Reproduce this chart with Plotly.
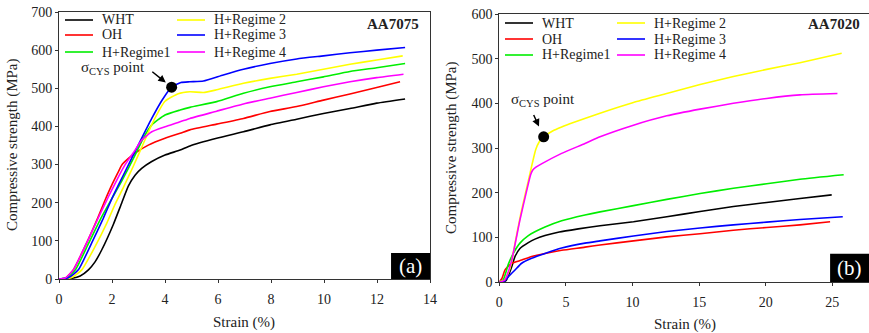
import plotly.graph_objects as go

W, H = 869, 333
FONT = "Times New Roman, Liberation Serif, DejaVu Serif, serif"
TXT = "#222222"

# ---------------- AA7075 (a) ----------------
names = ["WHT", "OH", "H+Regime1", "H+Regime 2", "H+Regime 3", "H+Regime 4"]
colors = ["#000000", "#ff0000", "#00ee00", "#ffff00", "#0000ff", "#ff00ff"]

a_wht_x = [0, 0.5, 0.8, 1.11, 1.36, 1.61, 2.05, 2.37, 2.62, 2.87, 3.12, 3.5, 4.0, 4.57, 4.94, 5.95, 6.96, 7.96, 8.97, 9.98, 10.98, 11.99, 13.06]
a_wht_y = [0, 2, 8, 24, 45, 76, 143, 200, 244, 272, 290, 308, 325, 338, 349, 369, 386, 404, 419, 434, 447, 461, 472]

a_oh_x = [0, 0.25, 0.54, 1.04, 1.48, 1.74, 1.99, 2.24, 2.37, 2.62, 2.87, 3.37, 4.0, 4.57, 4.94, 5.95, 6.96, 7.96, 8.97, 9.98, 10.98, 11.99, 12.87]
a_oh_y = [0, 3, 24, 94, 163, 207, 246, 281, 299, 316, 330, 351, 369, 382, 391, 406, 421, 439, 452, 469, 485, 502, 517]

a_r1_x = [0, 0.3, 0.62, 1.12, 1.58, 1.99, 2.37, 2.87, 3.18, 3.5, 4.0, 4.57, 4.94, 5.95, 6.96, 7.96, 8.97, 9.98, 10.98, 11.99, 13.06]
a_r1_y = [0, 3, 24, 94, 159, 210, 257, 325, 369, 404, 430, 443, 450, 465, 487, 504, 517, 530, 544, 554, 565]

a_r2_x = [0, 0.45, 0.86, 1.36, 1.8, 2.11, 2.43, 2.8, 3.12, 3.5, 4.0, 4.5, 4.94, 5.45, 5.95, 6.96, 7.96, 8.97, 9.98, 10.98, 11.99, 12.97]
a_r2_y = [0, 3, 24, 85, 146, 195, 240, 295, 345, 405, 466, 486, 491, 489, 496, 513, 526, 537, 550, 563, 574, 585]

a_r3_x = [0, 0.35, 0.73, 1.23, 1.67, 1.99, 2.24, 2.62, 2.99, 3.5, 3.9, 4.25, 4.6, 4.94, 5.45, 6.2, 6.96, 7.96, 8.97, 9.98, 10.98, 11.99, 13.06]
a_r3_y = [0, 3, 24, 94, 159, 210, 246, 299, 351, 421, 470, 503, 515, 517, 519, 535, 550, 565, 577, 585, 593, 600, 607]

a_r4_x = [0, 0.25, 0.54, 1.04, 1.48, 1.86, 2.2, 2.49, 2.87, 3.12, 3.5, 4.0, 4.57, 4.94, 5.95, 6.96, 7.96, 8.97, 9.98, 10.98, 11.99, 13.0]
a_r4_y = [0, 3, 24, 94, 160, 215, 262, 299, 338, 364, 386, 399, 412, 421, 440, 459, 474, 489, 504, 517, 528, 537]

a_cys = (4.25, 503)

# ---------------- AA7020 (b) ----------------
b_wht_x = [0, 0.5, 0.93, 1.18, 1.55, 2.18, 2.68, 3.43, 4.5, 5.93, 7.56, 10.07, 12.57, 15.07, 17.57, 20.07, 22.57, 24.95]
b_wht_y = [0, 3, 34, 57, 75, 88, 96, 104, 112, 119, 126, 135, 146, 158, 169, 178, 187, 195]

b_oh_x = [0, 0.2, 0.43, 0.93, 1.68, 2.43, 3.43, 4.68, 6.43, 7.56, 10.07, 12.57, 15.07, 17.57, 20.07, 22.57, 24.83]
b_oh_y = [0, 8, 27, 42, 49, 57, 64, 71, 78, 83, 92, 101, 108, 116, 122, 128, 135]

b_r1_x = [0, 0.3, 0.68, 1.05, 1.55, 2.18, 3.43, 4.68, 6.43, 7.56, 10.07, 12.57, 15.07, 17.57, 20.07, 22.57, 25.85]
b_r1_y = [0, 5, 40, 64, 87, 104, 123, 137, 150, 157, 171, 185, 198, 210, 220, 230, 240]

b_r2_x = [0, 0.4, 0.8, 1.33, 1.63, 2.25, 2.73, 3.0, 3.33, 4.0, 4.68, 5.56, 7.56, 10.07, 12.57, 15.07, 17.57, 20.07, 22.57, 25.7]
b_r2_y = [0, 4, 30, 110, 155, 236, 296, 314, 325, 338, 347, 357, 378, 402, 422, 442, 460, 476, 491, 512]

b_r3_x = [0, 0.3, 0.68, 1.18, 1.68, 2.43, 3.43, 4.68, 6.43, 7.56, 10.07, 12.57, 15.07, 17.57, 20.07, 22.57, 25.78]
b_r3_y = [0, 0, 12, 27, 42, 53, 64, 76, 87, 92, 103, 113, 121, 128, 134, 140, 146]

b_r4_x = [0, 0.4, 0.9, 1.55, 2.06, 2.35, 2.5, 2.75, 3.2, 4.68, 6.43, 7.56, 10.07, 12.57, 15.07, 17.57, 20.07, 22.57, 25.38]
b_r4_y = [0, 4, 45, 139, 205, 240, 250, 257, 265, 288, 310, 325, 351, 372, 387, 400, 411, 419, 422]

b_cys = (3.33, 325)

a_series = [(a_wht_x, a_wht_y), (a_oh_x, a_oh_y), (a_r1_x, a_r1_y),
            (a_r2_x, a_r2_y), (a_r3_x, a_r3_y), (a_r4_x, a_r4_y)]
b_series = [(b_wht_x, b_wht_y), (b_oh_x, b_oh_y), (b_r1_x, b_r1_y),
            (b_r2_x, b_r2_y), (b_r3_x, b_r3_y), (b_r4_x, b_r4_y)]

fig = go.Figure()

for i, (x, y) in enumerate(a_series):
    fig.add_trace(go.Scatter(x=x, y=y, name=names[i], mode="lines", showlegend=False,
                             line=dict(color=colors[i], width=1.6, shape="spline", smoothing=0.5),
                             xaxis="x", yaxis="y"))
for i, (x, y) in enumerate(b_series):
    fig.add_trace(go.Scatter(x=x, y=y, name=names[i], mode="lines", showlegend=False,
                             line=dict(color=colors[i], width=1.6, shape="spline", smoothing=0.5),
                             xaxis="x2", yaxis="y2"))

fig.add_trace(go.Scatter(x=[a_cys[0]], y=[a_cys[1]], mode="markers", showlegend=False,
                         marker=dict(color="black", size=11), xaxis="x", yaxis="y"))
fig.add_trace(go.Scatter(x=[b_cys[0]], y=[b_cys[1]], mode="markers", showlegend=False,
                         marker=dict(color="black", size=11), xaxis="x2", yaxis="y2"))

axcol = "#333333"
tickfont = dict(family=FONT, size=14, color=TXT)
common = dict(showgrid=False, zeroline=False, showline=True, linecolor=axcol, linewidth=1,
              mirror=True, ticks="outside", ticklen=3, tickcolor=axcol, tickfont=tickfont,
              automargin=False)

def px_x(p):
    return p / W

def px_y(p):
    return 1 - p / H

fig.update_layout(
    width=W, height=H, margin=dict(l=0, r=0, t=0, b=0),
    paper_bgcolor="white", plot_bgcolor="white", showlegend=False,
    font=dict(family=FONT, size=14, color=TXT),
    xaxis=dict(domain=[px_x(59), px_x(430)], range=[0, 14], dtick=2, anchor="y",
               ticklabelstandoff=4, **common),
    yaxis=dict(domain=[px_y(279), px_y(12)], range=[0, 700], dtick=100, anchor="x", **common),
    xaxis2=dict(domain=[px_x(499.3), 1.0], range=[0, 27.75], tickvals=[0, 5, 10, 15, 20, 25],
                anchor="y2", ticklabelstandoff=4, **common),
    yaxis2=dict(domain=[px_y(282), px_y(14)], range=[0, 600], dtick=100, anchor="x2", **common),
)

shapes = []
ann = []

# Manual two-column legends (series names / colours from the lists above)
def add_legend(col_x, rows_y):
    for i, name in enumerate(names):
        cx = col_x[i // 3]
        ry = rows_y[i % 3]
        shapes.append(dict(type="line", xref="paper", yref="paper",
                           x0=px_x(cx), x1=px_x(cx + 28), y0=px_y(ry), y1=px_y(ry),
                           line=dict(color=colors[i], width=1.6)))
        ann.append(dict(x=px_x(cx + 35), y=px_y(ry), xref="paper", yref="paper", text=name,
                        showarrow=False, xanchor="left", yanchor="middle",
                        font=dict(family=FONT, size=14, color=TXT)))

add_legend([65, 177], [20, 35, 52])
add_legend([505, 617], [23, 39, 55])

# Label boxes (a), (b)
shapes.append(dict(type="rect", xref="x", yref="y", x0=12.53, x1=14, y0=0, y1=68,
                   fillcolor="black", line=dict(width=0)))
shapes.append(dict(type="rect", xref="x2", yref="y2", x0=24.83, x1=27.75, y0=0, y1=63,
                   fillcolor="black", line=dict(width=0)))

def text(x, y, s, size=15, color=TXT, xref="paper", yref="paper", xanchor="center", angle=0):
    ann.append(dict(x=x, y=y, xref=xref, yref=yref, text=s, showarrow=False,
                    xanchor=xanchor, yanchor="middle", textangle=angle,
                    font=dict(family=FONT, size=size, color=color)))

text(13.27, 34, "(a)", size=21, color="white", xref="x", yref="y")
text(26.29, 31, "(b)", size=21, color="white", xref="x2", yref="y2")
text(px_x(421), px_y(24), "<b>AA7075</b>", xanchor="right")
text(px_x(862), px_y(24), "<b>AA7020</b>", xanchor="right")
text(2.04, 553, "σ<sub>CYS</sub> point", xref="x", yref="y")
text(3.3, 407, "σ<sub>CYS</sub> point", xref="x2", yref="y2")
# arrows
ann.append(dict(x=4.03, y=515, xref="x", yref="y", text="", showarrow=True, arrowhead=2,
                arrowsize=1, arrowwidth=1.5, arrowcolor="black", ax=-15, ay=-12))
ann.append(dict(x=2.98, y=348, xref="x2", yref="y2", text="", showarrow=True, arrowhead=2,
                arrowsize=1, arrowwidth=1.5, arrowcolor="black", ax=-6, ay=-13))
# axis titles
text(px_x(244), px_y(322), "Strain (%)")
text(px_x(685), px_y(324), "Strain (%)")
text(px_x(12), px_y(145), "Compressive strength (MPa)", angle=-90)
text(px_x(451), px_y(148), "Compressive strength (MPa)", angle=-90)
fig.update_layout(annotations=ann, shapes=shapes)

fig.write_html("out.html")
